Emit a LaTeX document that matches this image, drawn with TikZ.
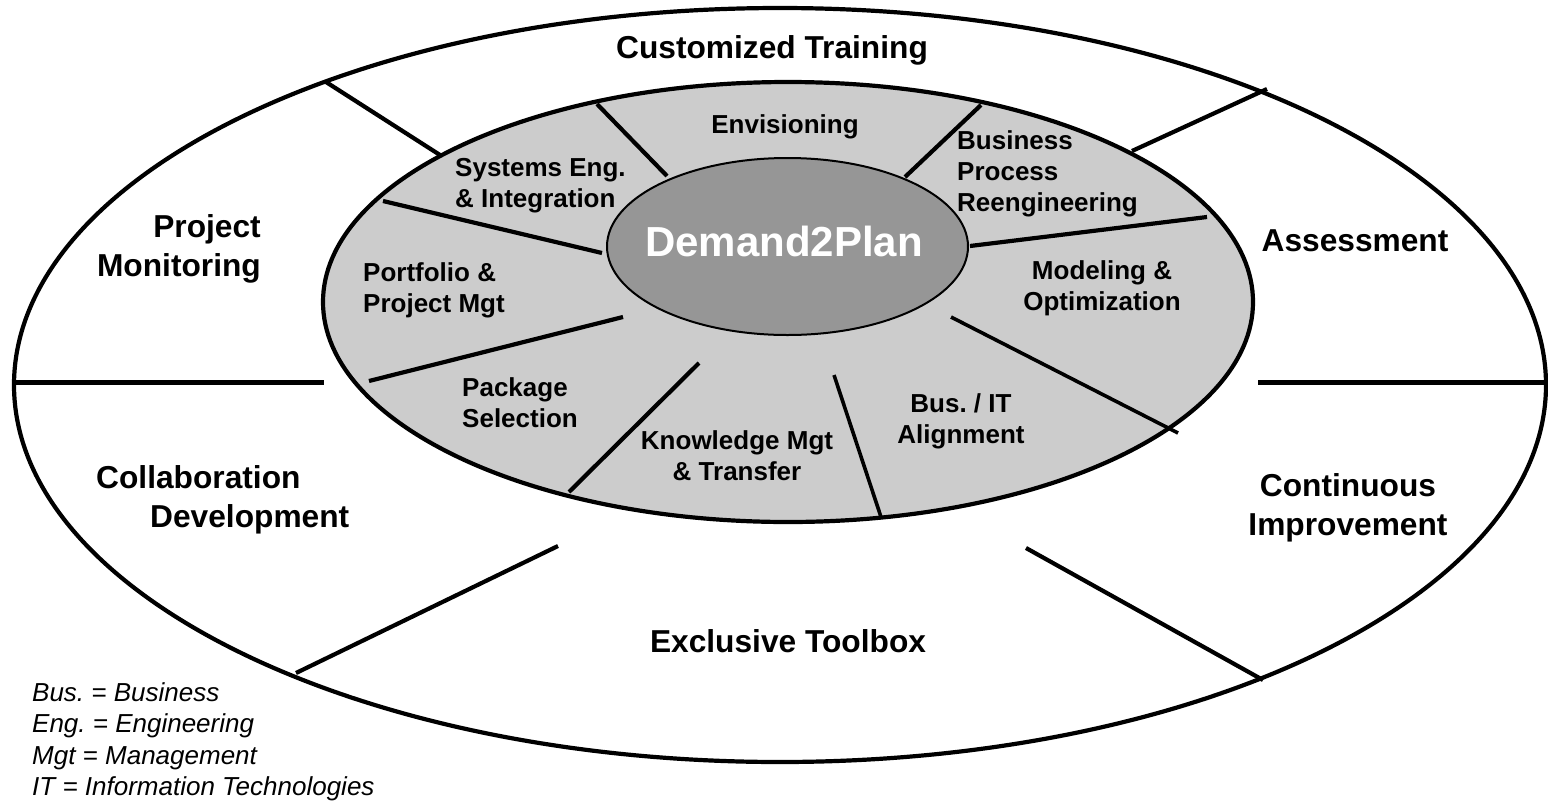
\documentclass[tikz,border=0pt]{standalone}
\usepackage{fontspec}
\setmainfont{Liberation Sans}
\frenchspacing
\definecolor{ringgray}{RGB}{204,204,204}
\definecolor{coregray}{RGB}{150,150,150}
\begin{document}
\begin{tikzpicture}[x=1pt,y=-1pt,
  outerlbl/.style={font=\fontsize{31.7}{39}\selectfont\bfseries, inner sep=0pt},
  innerlbl/.style={font=\fontsize{26}{31}\selectfont\bfseries, inner sep=0pt},
  legendtxt/.style={font=\fontsize{26}{31.5}\selectfont\itshape, inner sep=0pt, align=left},
  spoke/.style={line width=4.2pt},
  hspoke/.style={line width=5pt},
  ring/.style={line width=4.2pt}]

\useasboundingbox (0,0) rectangle (1548,804);
\fill[white] (0,0) rectangle (1548,804);

% outer ring
\draw[ring, fill=white] (780,385) ellipse [x radius=766pt, y radius=377pt];

% outer spoke end points
\coordinate (o1a) at (326,82);   \coordinate (o1b) at (440,155);
\coordinate (o2a) at (1267,89);  \coordinate (o2b) at (1132,151);
\coordinate (o3a) at (14,382);   \coordinate (o3b) at (324,382);
\coordinate (o4a) at (1258,382); \coordinate (o4b) at (1546,382);
\coordinate (o5a) at (558,546);  \coordinate (o5b) at (296,673);
\coordinate (o6a) at (1026,548); \coordinate (o6b) at (1263,680);

\draw[spoke] (o1a) -- (o1b);
\draw[spoke] (o2a) -- (o2b);
\draw[hspoke] (o3a) -- (o3b);
\draw[hspoke] (o4a) -- (o4b);
\draw[spoke] (o5a) -- (o5b);
\draw[spoke] (o6a) -- (o6b);

% middle ring
\draw[ring, fill=ringgray] (788,302) ellipse [x radius=465pt, y radius=220pt];

% inner spoke end points
\coordinate (i1a) at (597,104);  \coordinate (i1b) at (667,176);
\coordinate (i2a) at (981,105);  \coordinate (i2b) at (905,177);
\coordinate (i3a) at (383,201);  \coordinate (i3b) at (602,253);
\coordinate (i4a) at (970,246);  \coordinate (i4b) at (1207,217);
\coordinate (i5a) at (623,317);  \coordinate (i5b) at (369,381);
\coordinate (i6a) at (699,363);  \coordinate (i6b) at (569,492);
\coordinate (i7a) at (834,375);  \coordinate (i7b) at (881,517);
\coordinate (i8a) at (951,317);  \coordinate (i8b) at (1178,433);

\draw[spoke] (i1a) -- (i1b);
\draw[spoke] (i2a) -- (i2b);
\draw[spoke] (i3a) -- (i3b);
\draw[spoke] (i4a) -- (i4b);
\draw[spoke] (i5a) -- (i5b);
\draw[spoke] (i6a) -- (i6b);
\draw[line width=3.6pt] (i7a) -- (i7b);
\draw[line width=3.6pt] (i8a) -- (i8b);

% core
\draw[line width=2pt, fill=coregray] (787.5,246.5) ellipse [x radius=180.5pt, y radius=88.5pt];
\node[font=\fontsize{42}{50}\selectfont\bfseries, text=white, inner sep=0pt] (d2p) at (784,241) {Demand2Plan};

% outer labels
\node[outerlbl] (ct) at (772,50) {Customized Training};
\node[outerlbl, align=right, anchor=east] (pm) at (261,249) {Project\\Monitoring};
\node[outerlbl, align=left, anchor=west] (cd) at (96,500) {Collaboration\\\hspace*{54pt}Development};
\node[outerlbl] (as) at (1355,241) {Assessment};
\node[outerlbl, align=center] (ci) at (1348,508) {Continuous\\Improvement};
\node[outerlbl] (et) at (788,641) {Exclusive Toolbox};

% inner labels
\node[innerlbl] (env) at (785,127) {Envisioning};
\node[innerlbl, align=left, anchor=west] (sei) at (455,186) {Systems Eng.\\\& Integration};
\node[innerlbl, align=left, anchor=west] (bpr) at (957,174) {Business\\Process\\Reengineering};
\node[innerlbl, align=left, anchor=west] (ppm) at (363,290) {Portfolio \&\\Project Mgt};
\node[innerlbl, align=center] (mo) at (1102,288) {Modeling \&\\Optimization};
\node[innerlbl, align=left, anchor=west] (ps) at (462,403) {Package\\Selection};
\node[innerlbl, align=center] (km) at (737,456) {Knowledge Mgt\\\& Transfer};
\node[innerlbl, align=center] (bit) at (961,421) {Bus. / IT\\Alignment};

% legend
\node[legendtxt, anchor=west] (leg) at (32,742) {Bus. = Business\\Eng. = Engineering\\Mgt = Management\\IT = Information Technologies};
\end{tikzpicture}
\end{document}
